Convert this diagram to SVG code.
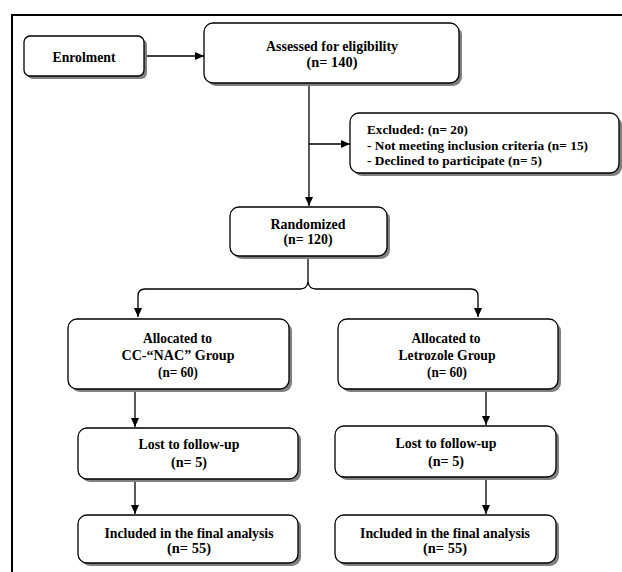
<svg xmlns="http://www.w3.org/2000/svg" width="622" height="572" viewBox="0 0 622 572">
<defs>
<marker id="ah" markerWidth="10" markerHeight="10" refX="9" refY="5" orient="auto" markerUnits="userSpaceOnUse">
<path d="M0,1 L9,5 L0,9 Z" fill="#000"/>
</marker>
</defs>
<style>
.box{fill:#fff;stroke:#000;stroke-width:1.3}
.sh{fill:#808080}
.t{font-family:"Liberation Serif","Times New Roman",serif;font-weight:bold;font-size:14.5px;fill:#000}
.s{font-size:13px}
.c{text-anchor:middle}
.ln{fill:none;stroke:#000;stroke-width:1.3}
</style>
<rect width="622" height="572" fill="#fff"/>
<path d="M12,572 L12,15 L622,15" fill="none" stroke="#000" stroke-width="2"/>

<g id="connectors">
<line class="ln" x1="144" y1="56" x2="204" y2="56" marker-end="url(#ah)"/>
<line class="ln" x1="309" y1="83" x2="309" y2="206" marker-end="url(#ah)"/>
<line class="ln" x1="309" y1="144" x2="350" y2="144" marker-end="url(#ah)"/>
<path class="ln" d="M308,257 L308,282"/>
<path class="ln" d="M308,282 Q307,289 300,289 L145,289 Q138,289 138,296 L138,317" marker-end="url(#ah)"/>
<path class="ln" d="M308,282 Q309,289 316,289 L471,289 Q478,289 478,296 L478,317" marker-end="url(#ah)"/>
<line class="ln" x1="135" y1="389" x2="135" y2="427" marker-end="url(#ah)"/>
<line class="ln" x1="486" y1="389" x2="486" y2="425" marker-end="url(#ah)"/>
<line class="ln" x1="135" y1="479" x2="135" y2="514" marker-end="url(#ah)"/>
<line class="ln" x1="486" y1="477" x2="486" y2="514" marker-end="url(#ah)"/>
</g>

<g id="enrolment">
<rect class="sh" x="27" y="39" width="120" height="40" rx="6"/>
<rect class="box" x="24" y="36" width="120" height="40" rx="6"/>
<text class="t c" x="84" y="61.5" textLength="63" lengthAdjust="spacingAndGlyphs">Enrolment</text>
</g>

<g id="assessed">
<rect class="sh" x="207" y="26" width="255" height="60" rx="9"/>
<rect class="box" x="204" y="23" width="255" height="60" rx="9"/>
<text class="t c" x="332" y="51" textLength="132" lengthAdjust="spacingAndGlyphs">Assessed for eligibility</text>
<text class="t c" x="332" y="66.5" textLength="51" lengthAdjust="spacingAndGlyphs">(n= 140)</text>
</g>

<g id="excluded">
<rect class="sh" x="353" y="116" width="269" height="60" rx="9"/>
<rect class="box" x="350" y="113" width="269" height="60" rx="9"/>
<text class="t s" x="367" y="134" textLength="101" lengthAdjust="spacingAndGlyphs">Excluded: (n= 20)</text>
<text class="t s" x="367" y="149.5" textLength="221" lengthAdjust="spacingAndGlyphs">- Not meeting inclusion criteria  (n= 15)</text>
<text class="t s" x="367" y="165" textLength="175" lengthAdjust="spacingAndGlyphs">- Declined to participate (n= 5)</text>
</g>

<g id="randomized">
<rect class="sh" x="233" y="210" width="157" height="49" rx="9"/>
<rect class="box" x="230" y="207" width="157" height="49" rx="9"/>
<text class="t c" x="308" y="228.5" textLength="75" lengthAdjust="spacingAndGlyphs">Randomized</text>
<text class="t c" x="308" y="244" textLength="49" lengthAdjust="spacingAndGlyphs">(n= 120)</text>
</g>

<g id="alloc-cc">
<rect class="sh" x="71" y="322" width="221" height="70" rx="9"/>
<rect class="box" x="68" y="319" width="221" height="70" rx="9"/>
<text class="t c" x="177.5" y="343" textLength="69" lengthAdjust="spacingAndGlyphs">Allocated to</text>
<text class="t c" x="178" y="359.5" textLength="113" lengthAdjust="spacingAndGlyphs">CC-“NAC” Group</text>
<text class="t c" x="178" y="377" textLength="40" lengthAdjust="spacingAndGlyphs">(n= 60)</text>
</g>

<g id="alloc-let">
<rect class="sh" x="341" y="322" width="220" height="70" rx="9"/>
<rect class="box" x="338" y="319" width="220" height="70" rx="9"/>
<text class="t c" x="446" y="343" textLength="69" lengthAdjust="spacingAndGlyphs">Allocated to</text>
<text class="t c" x="447" y="359.5" textLength="97" lengthAdjust="spacingAndGlyphs">Letrozole Group</text>
<text class="t c" x="447" y="377" textLength="40" lengthAdjust="spacingAndGlyphs">(n= 60)</text>
</g>

<g id="lost-cc">
<rect class="sh" x="81" y="431" width="220" height="51" rx="9"/>
<rect class="box" x="78" y="428" width="220" height="51" rx="9"/>
<text class="t c" x="189" y="448.5" textLength="101" lengthAdjust="spacingAndGlyphs">Lost to follow-up</text>
<text class="t c" x="189" y="466.5" textLength="36" lengthAdjust="spacingAndGlyphs">(n= 5)</text>
</g>

<g id="lost-let">
<rect class="sh" x="338" y="429" width="221" height="51" rx="9"/>
<rect class="box" x="335" y="426" width="221" height="51" rx="9"/>
<text class="t c" x="446" y="447.5" textLength="101" lengthAdjust="spacingAndGlyphs">Lost to follow-up</text>
<text class="t c" x="446" y="465.5" textLength="36" lengthAdjust="spacingAndGlyphs">(n= 5)</text>
</g>

<g id="incl-cc">
<rect class="sh" x="81" y="518" width="220" height="48" rx="9"/>
<rect class="box" x="78" y="515" width="220" height="48" rx="9"/>
<text class="t c" x="189" y="537.5" textLength="169" lengthAdjust="spacingAndGlyphs">Included in the final analysis</text>
<text class="t c" x="189" y="552.5" textLength="44" lengthAdjust="spacingAndGlyphs">(n= 55)</text>
</g>

<g id="incl-let">
<rect class="sh" x="338" y="518" width="221" height="48" rx="9"/>
<rect class="box" x="335" y="515" width="221" height="48" rx="9"/>
<text class="t c" x="445" y="537.5" textLength="170" lengthAdjust="spacingAndGlyphs">Included in the final analysis</text>
<text class="t c" x="445" y="552.5" textLength="44" lengthAdjust="spacingAndGlyphs">(n= 55)</text>
</g>
</svg>
